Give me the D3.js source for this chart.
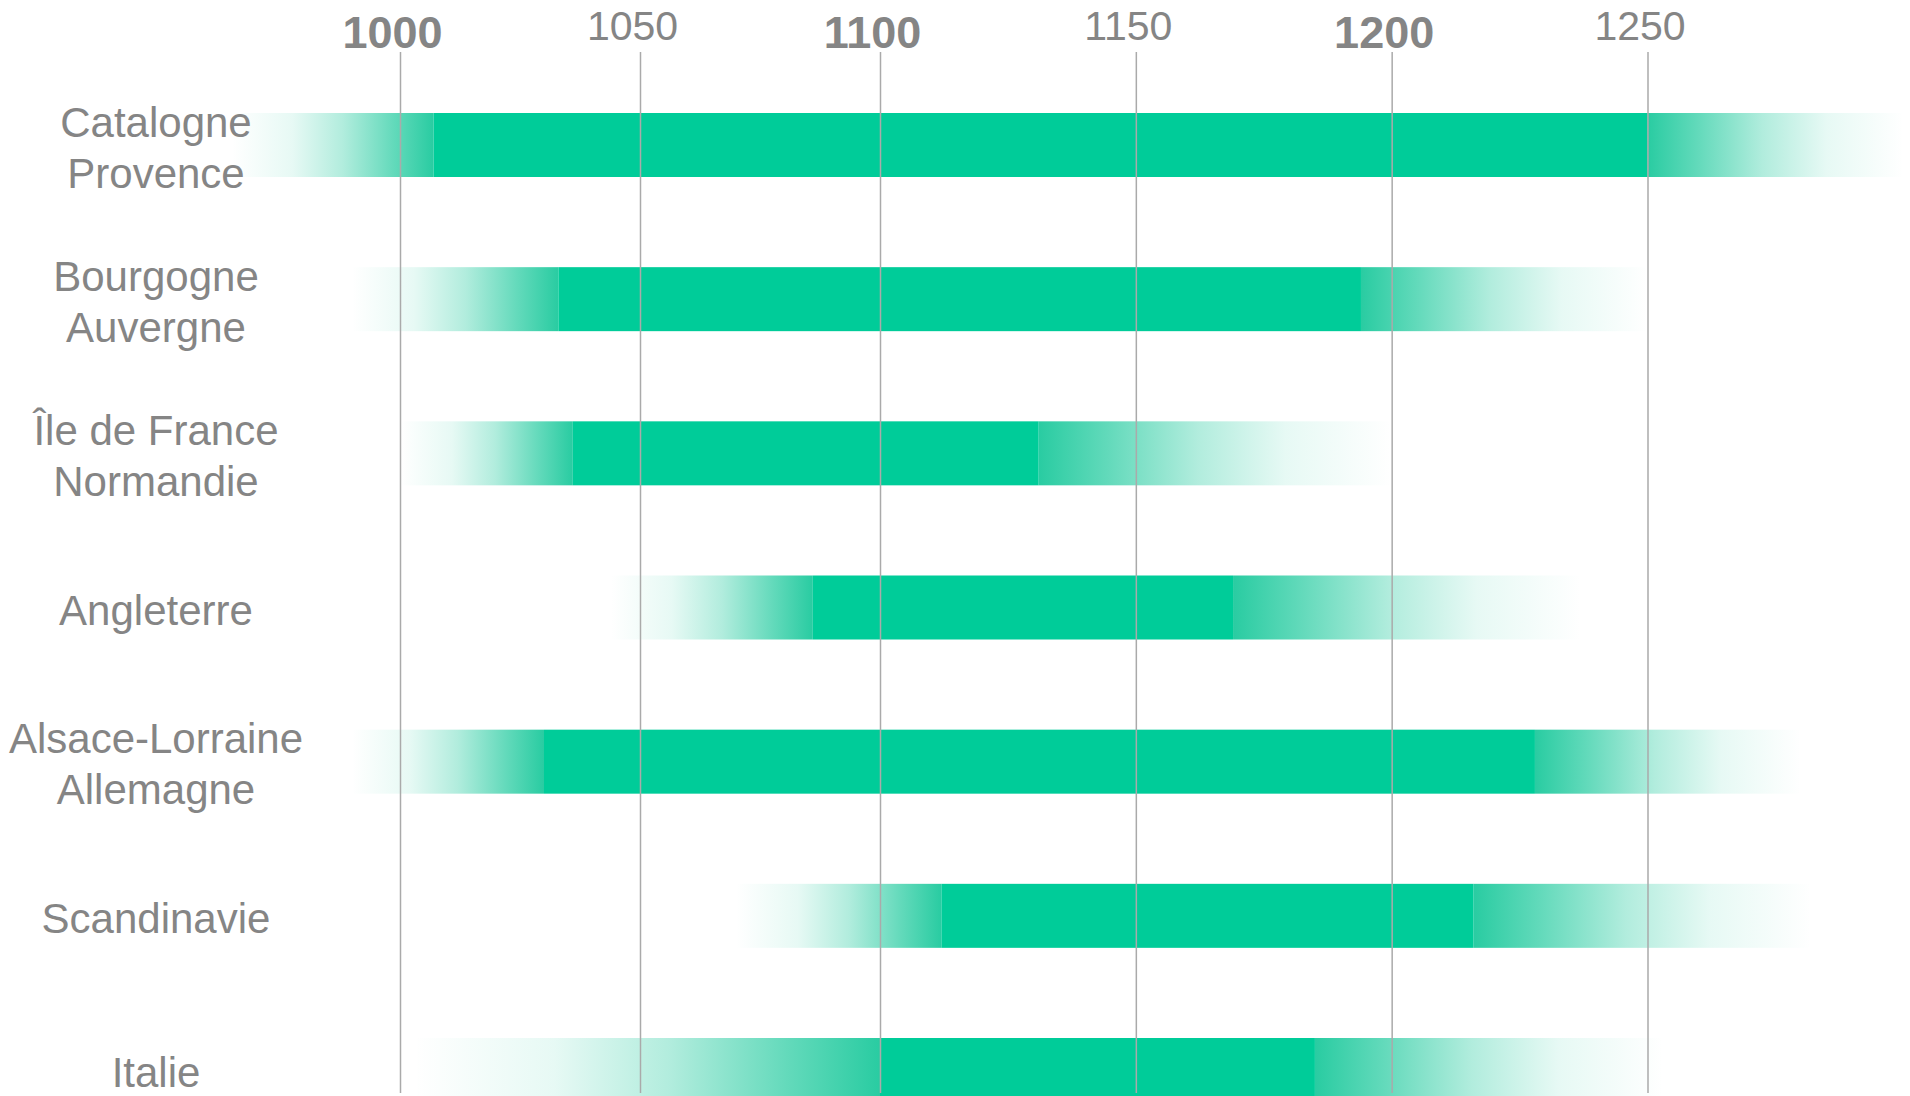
<!DOCTYPE html>
<html>
<head>
<meta charset="utf-8">
<script src="https://cdn.jsdelivr.net/npm/d3@7"></script>
<style>
  html, body { margin: 0; padding: 0; background: #ffffff; }
  svg { display: block; }
  text { font-family: "Liberation Sans", Arial, sans-serif; }
</style>
</head>
<body>
<svg id="chart" width="1910" height="1096"></svg>
<script>
// ---- data ----
const categories = ["Catalogne\nProvence", "Bourgogne\nAuvergne", "Île de France\nNormandie", "Angleterre", "Alsace-Lorraine\nAllemagne", "Scandinavie", "Italie"];
const fadeStart  = [965, 990, 1000, 1044, 990, 1070, 1003];
const solidStart = [1007, 1033, 1036, 1086, 1030, 1112, 1100];
const solidEnd   = [1250, 1194, 1131, 1169, 1228, 1216, 1185];
const fadeEnd    = [1300, 1250, 1200, 1237, 1280, 1282, 1253];
const tickYears  = [1000, 1050, 1100, 1150, 1200, 1250];

// ---- layout ----
const W = 1910, H = 1096;
const axisY = 52, gridBottom = 1093;
const barH = 64;
const green = "#00CC99";
const fadeColor = "#0cc595";
const textColor = "#858585";

const rows = categories.map((c, i) => ({
  name: c, fadeStart: fadeStart[i], solidStart: solidStart[i], solidEnd: solidEnd[i], fadeEnd: fadeEnd[i]
}));

const svg = d3.select("#chart");

// piecewise-linear year scale (the reference axis is not uniform)
const x = d3.scaleLinear()
  .domain([tickYears[0], tickYears[2], tickYears[5]])
  .range([400, 880, 1647.5]);

const y = d3.scalePoint()
  .domain(categories)
  .range([145, 1070]);

// gradients
const defs = svg.append("defs");
const stops = [[0, 0], [0.3, 0.1], [0.55, 0.32], [0.8, 0.64], [1, 0.88]];
const gIn = defs.append("linearGradient").attr("id", "fadeIn")
  .attr("x1", "0%").attr("x2", "100%").attr("y1", "0%").attr("y2", "0%");
stops.forEach(([o, a]) => gIn.append("stop").attr("offset", o).attr("stop-color", fadeColor).attr("stop-opacity", a));
const gOut = defs.append("linearGradient").attr("id", "fadeOut")
  .attr("x1", "100%").attr("x2", "0%").attr("y1", "0%").attr("y2", "0%");
stops.forEach(([o, a]) => gOut.append("stop").attr("offset", o).attr("stop-color", fadeColor).attr("stop-opacity", a));

// bars
const bars = svg.append("g").attr("class", "bars");
const rowG = bars.selectAll("g").data(rows).join("g");

rowG.append("rect")
  .attr("x", d => x(d.fadeStart))
  .attr("y", d => y(d.name) - barH / 2)
  .attr("width", d => x(d.solidStart) - x(d.fadeStart))
  .attr("height", barH)
  .attr("fill", "url(#fadeIn)");

rowG.append("rect")
  .attr("x", d => x(d.solidEnd))
  .attr("y", d => y(d.name) - barH / 2)
  .attr("width", d => x(d.fadeEnd) - x(d.solidEnd))
  .attr("height", barH)
  .attr("fill", "url(#fadeOut)");

rowG.append("rect")
  .attr("x", d => x(d.solidStart))
  .attr("y", d => y(d.name) - barH / 2)
  .attr("width", d => x(d.solidEnd) - x(d.solidStart))
  .attr("height", barH)
  .attr("fill", green);

// axis with gridlines
const axis = d3.axisTop(x)
  .tickValues(tickYears)
  .tickFormat(d3.format("d"))
  .tickSizeInner(-(gridBottom - axisY))
  .tickSizeOuter(0)
  .tickPadding(12);

const ax = svg.append("g")
  .attr("transform", `translate(0,${axisY})`)
  .call(axis);

ax.select(".domain").remove();
ax.selectAll(".tick line")
  .attr("stroke", "#aaaaaa")
  .attr("stroke-width", 1.5);
ax.selectAll(".tick text")
  .attr("fill", textColor)
  .attr("dx", -8)
  .attr("y", d => d % 100 === 0 ? -4 : -12)
  .style("font-size", d => d % 100 === 0 ? "45px" : "41px")
  .style("font-weight", d => d % 100 === 0 ? "bold" : "normal")
  .style("font-family", "'Liberation Sans', Arial, sans-serif");

// category labels
const labels = svg.append("g").attr("class", "labels");
labels.selectAll("text")
  .data(rows)
  .join("text")
  .attr("text-anchor", "middle")
  .attr("fill", textColor)
  .style("font-size", "42px")
  .each(function(d) {
    const lines = d.name.split("\n");
    const n = lines.length;
    const cy = y(d.name);
    const base = cy + 17 - (n - 1) * 25.5;
    d3.select(this).selectAll("tspan")
      .data(lines)
      .join("tspan")
      .attr("x", 156)
      .attr("y", (l, i) => base + i * 51)
      .text(l => l);
  });
</script>
</body>
</html>
